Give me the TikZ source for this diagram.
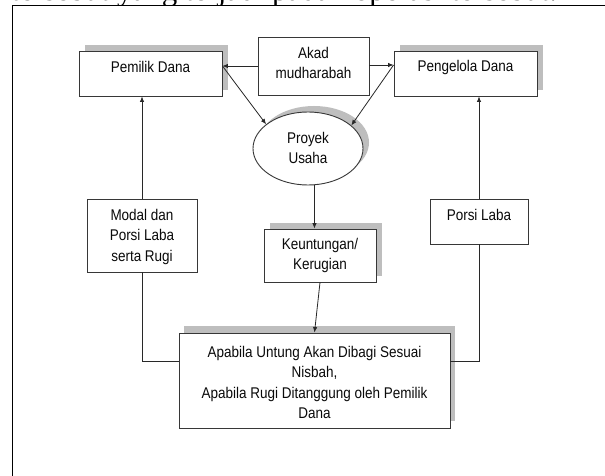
\documentclass[tikz,border=0pt]{standalone}
\usepackage{fontspec}
\setmainfont[FakeStretch=0.87]{Liberation Sans}
\newfontfamily\pageserif{Liberation Serif}
\usetikzlibrary{shapes.geometric,arrows.meta}
\definecolor{bordc}{RGB}{55,55,55}
\definecolor{shadc}{RGB}{190,190,190}
\definecolor{txtc}{RGB}{10,10,10}
\definecolor{linec}{RGB}{40,40,40}
\tikzset{
  box/.style={draw=bordc, fill=white, line width=0.9pt, inner sep=0pt},
  shad/.style={fill=shadc, draw=none},
  txt/.style={inner sep=0pt, align=center, font=\fontsize{15.5}{20.5}\selectfont, text=txtc},
  arr/.style={draw=linec, line width=0.8pt, -{Latex[length=5.5pt,width=4.5pt]}},
  ln/.style={draw=linec, line width=0.8pt},
}
\begin{document}
\begin{tikzpicture}[x=1pt,y=-1pt]
\useasboundingbox (0,0) rectangle (605,476);
\fill[white] (0,0) rectangle (605,476);
% clipped page text at top
\begin{scope}
  \clip (0,0) rectangle (605,5.6);
  \node[anchor=base west, inner sep=0pt, font=\pageserif\fontsize{31}{31}\selectfont] (toptext) at (11,0.8) {tersebut yang terjadi pada koperasi tersebut.};
\end{scope}
% frame
\draw[black, line width=1pt] (12,476) -- (12,6) -- (605,6);
% shadows
\fill[shad] (85,45) rectangle (228,90);
\fill[shad] (400,45) rectangle (543,90);
\fill[shad] (314,142.5) ellipse [x radius=55, y radius=36.5];
\fill[shad] (270,223) rectangle (382,276);
\fill[shad] (184,326) rectangle (455,421);
% boxes
\node[box, minimum width=143pt, minimum height=45pt] (pem) at (150.5,73.5) {};
\node[txt] (pemt) at (150.5,67) {Pemilik Dana};
\node[box, minimum width=143pt, minimum height=45pt] (pen) at (465.5,73.5) {};
\node[txt] (pent) at (465.5,67) {Pengelola Dana};
\node[box, minimum width=111pt, minimum height=58pt] (akad) at (313.5,66) {};
\node[txt] (akadt) at (313.5,63) {Akad\\mudharabah};
\node[box, ellipse, minimum width=110pt, minimum height=73pt] (proj) at (308,148.5) {};
\node[txt] (projt) at (308,148) {Proyek\\Usaha};
\node[box, minimum width=112pt, minimum height=53pt] (keu) at (320,255.5) {};
\node[txt] (keut) at (320,255.5) {Keuntungan/\\Kerugian};
\node[box, minimum width=110pt, minimum height=73pt] (modal) at (142,235.5) {};
\node[txt] (modalt) at (142,236.5) {Modal dan\\Porsi Laba\\serta Rugi};
\node[box, minimum width=98pt, minimum height=45pt] (porsi) at (479,221.5) {};
\node[txt] (porsit) at (479,215) {Porsi Laba};
\node[box, minimum width=271pt, minimum height=95pt] (bot) at (314.5,380.5) {};
\node[txt] (bott) at (314.5,382.5) {Apabila Untung Akan Dibagi Sesuai\\Nisbah,\\Apabila Rugi Ditanggung oleh Pemilik\\Dana};
% connectors
\coordinate (hA) at (0,66);
\coordinate (hB) at (0,65);
\coordinate (hL) at (0,361);
\draw[arr] (akad.west |- hA) -- (pem.east |- hA);
\draw[arr] (akad.east |- hB) -- (pen.west |- hB);
\draw[arr] (pem.east |- hA) -- (proj.150);
\draw[arr] (pen.west |- hB) -- (proj.28);
\draw[arr] (proj.-80) -- (proj.-80 |- keu.north);
\draw[arr] (keu.south) -- (bot.north);
\draw[arr] (modal.north) -- (modal.north |- pem.south);
\draw[arr] (porsi.north) -- (porsi.north |- pen.south);
\draw[ln] (modal.south) |- (bot.west |- hL);
\draw[ln] (porsi.south) |- (bot.east |- hL);
\end{tikzpicture}
\end{document}
